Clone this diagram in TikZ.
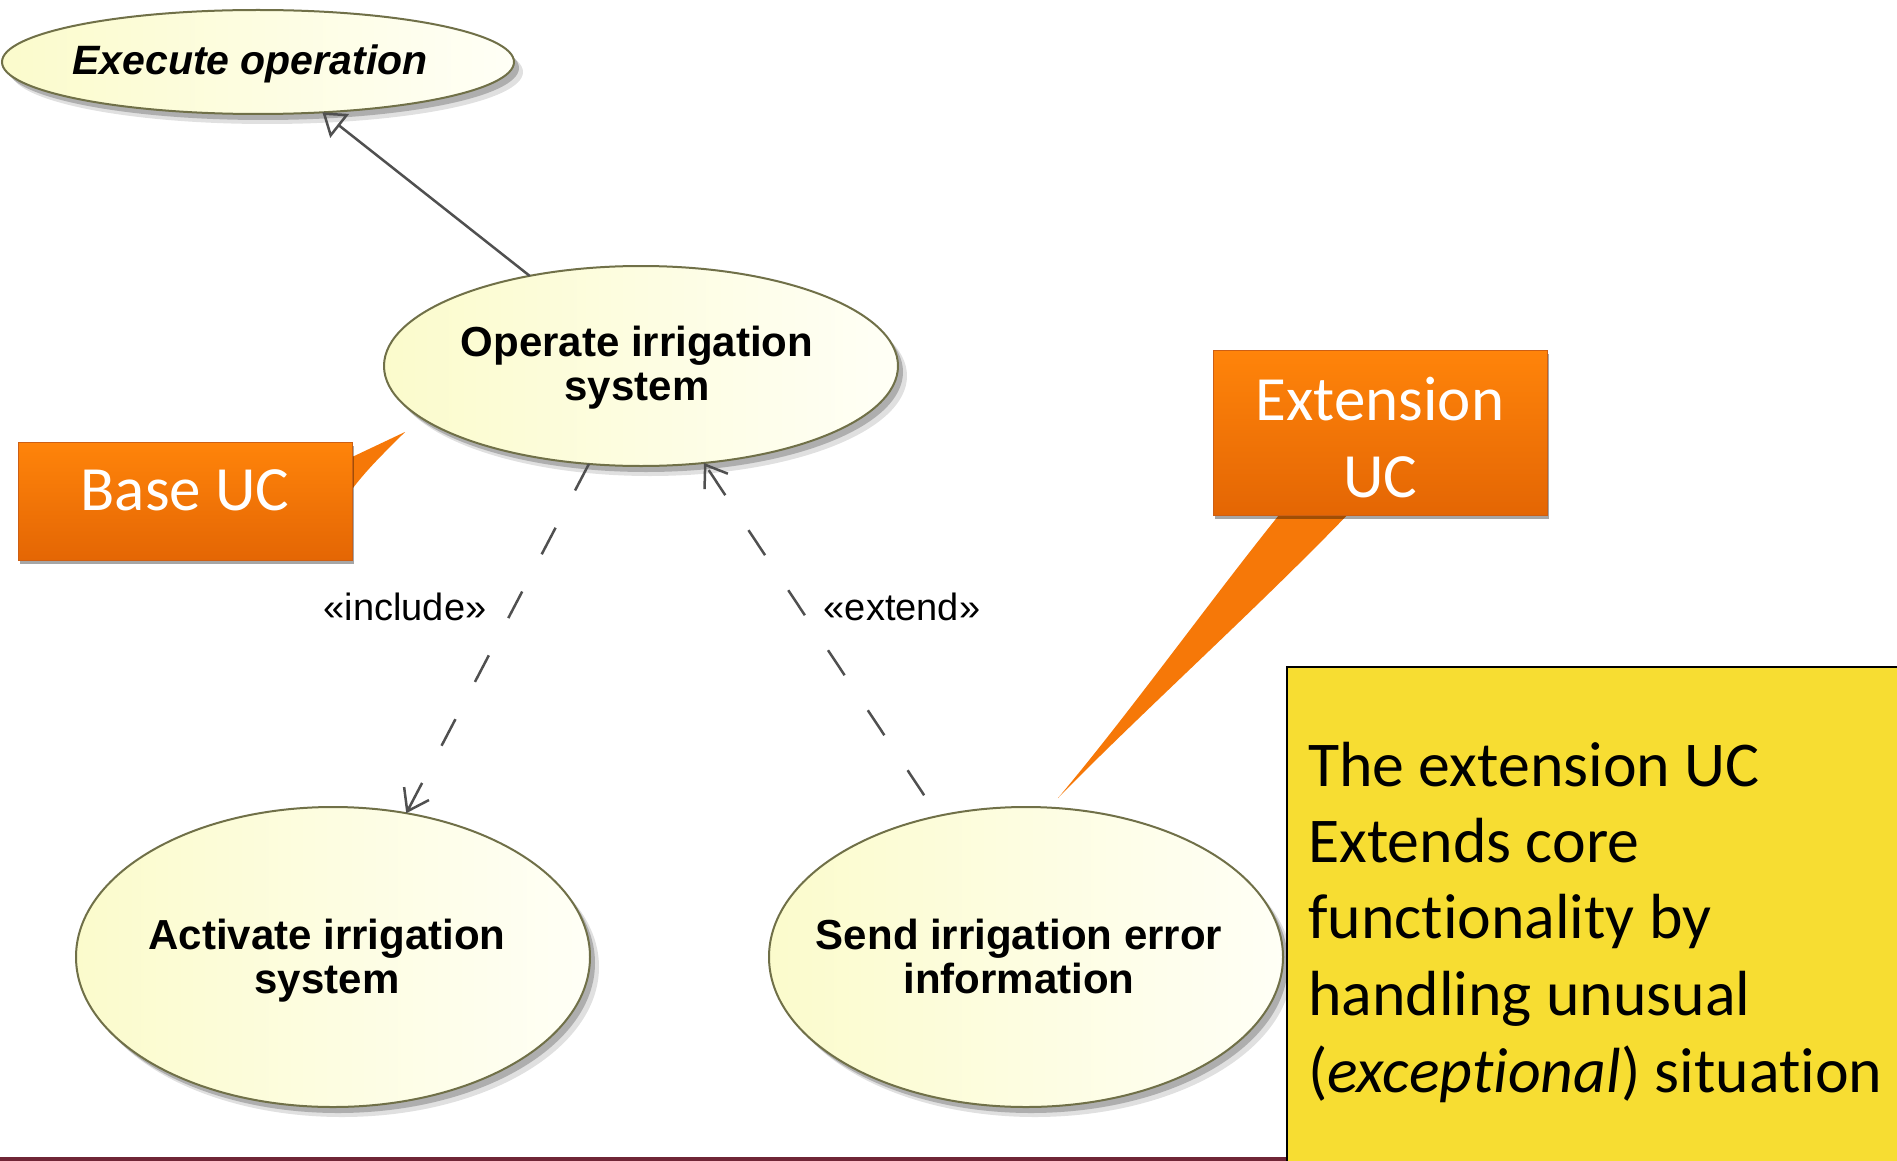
\documentclass[tikz,border=0pt]{standalone}
\usepackage{fontspec}
\setmainfont{Carlito}[Ligatures=NoCommon]
\newfontfamily\umlfont{Liberation Sans}
\usetikzlibrary{shapes.geometric,arrows.meta,shadows}

\definecolor{ucborder}{RGB}{112,112,72}
\definecolor{ucleft}{RGB}{251,251,204}
\definecolor{ucright}{RGB}{255,255,246}
\definecolor{linkgray}{RGB}{80,80,80}
\definecolor{calltop}{RGB}{255,132,10}
\definecolor{callbot}{RGB}{228,102,4}
\definecolor{calledge}{RGB}{205,95,20}
\definecolor{calltail}{RGB}{246,120,8}
\definecolor{noteyellow}{RGB}{247,221,50}
\definecolor{barred}{RGB}{112,38,54}

\begin{document}
\begin{tikzpicture}[x=1pt,y=-1pt,
  uc/.style={ellipse, draw=ucborder, line width=2pt, left color=ucleft,
    right color=ucright, inner sep=0pt, outer sep=0pt,
    drop shadow={shadow xshift=5pt, shadow yshift=-6pt, opacity=0.22, fill=black},
    drop shadow={shadow xshift=9pt, shadow yshift=-10pt, opacity=0.12, fill=black}},
  uctext/.style={font=\umlfont\bfseries\fontsize{42}{44}\selectfont,
    align=center, inner sep=0pt},
  stereo/.style={font=\umlfont\fontsize{38}{40}\selectfont, inner sep=0pt, anchor=base},
  link/.style={draw=linkgray, line width=2.5pt},
  dashpat/.style={dash pattern=on 30pt off 42pt},
  openhead/.style={-{Straight Barb[length=20pt, width=28pt]}},
  callbox/.style={rectangle, draw=calledge, line width=1pt, top color=calltop,
    bottom color=callbot, inner sep=0pt,
    drop shadow={shadow xshift=2pt, shadow yshift=-4pt, opacity=0.35, fill=black}},
  calltext/.style={font=\fontsize{63}{77}\selectfont, text=white, inner sep=0pt, anchor=base},
  notetext/.style={font=\fontsize{63.8}{77}\selectfont, text=black, inner sep=0pt, anchor=base west}
]
\useasboundingbox[fill=white] (0,0) rectangle (1897,1161);

% use cases
\node[uc, minimum width=512pt, minimum height=104pt] (ex) at (258,62) {};
\node[uc, minimum width=514pt, minimum height=200pt] (op) at (641,366) {};
\node[uc, minimum width=514pt, minimum height=300pt] (act) at (333,957) {};
\node[uc, minimum width=514pt, minimum height=300pt] (send) at (1026,957) {};

\node[uctext, font=\umlfont\bfseries\itshape\fontsize{41}{44}\selectfont] (ex-t) at (250,64) {Execute operation};
\node[uctext] (op-t) at (637,368) {Operate irrigation\\system};
\node[uctext] (act-t) at (327,961) {Activate irrigation\\system};
\node[uctext] (send-t) at (1019,956) {Send irrigation error\\information};

% relationships
\draw[link, -{Triangle[open, length=22pt, width=30pt]}] (op.141) -- (ex.-38);
\draw[link, dashpat, openhead] (op.-118.5) -- (act.63);
\draw[link, dashpat, dash phase=47pt, openhead] (send.122.9) -- (op.-57.9);

\node[stereo] (inc) at (405,620) {«include»};
\node[stereo] (ext) at (902,620) {«extend»};

% callout: base use case
\fill[calltail] (350,458) -- (405,432) .. controls (385,452) and (366,470) .. (350,492) -- cycle;
\node[callbox, minimum width=334pt, minimum height=118pt] (base) at (185,501) {};
\node[calltext] (base-t) at (185,510) {Base UC};

% callout: extension use case
\fill[calltail] (1283,510) .. controls (1212,598) and (1128,715) .. (1058,798)
  .. controls (1142,712) and (1264,602) .. (1352,510) -- cycle;
\node[callbox, minimum width=334pt, minimum height=165pt] (extc) at (1380,432.5) {};
\node[calltext] (extc-t1) at (1380,420) {Extension};
\node[calltext] (extc-t2) at (1380,497) {UC};

% bottom bar and note
\fill[barred] (0,1157) rectangle (1897,1161);
\node[fill=noteyellow, draw=none, anchor=north west, inner sep=0pt,
  minimum width=610pt, minimum height=494pt] (note) at (1287,667) {};
\draw[black, line width=2pt] (note.south west) -- (note.north west) -- (note.north east);
\node[notetext] (n1) at (1308,786) {The extension UC};
\node[notetext] (n2) at (1308,862) {Extends core};
\node[notetext] (n3) at (1308,938) {functionality by};
\node[notetext] (n4) at (1308,1015) {handling unusual};
\node[notetext] (n5) at (1308,1092) {(\textit{exceptional}) situation};
\end{tikzpicture}
\end{document}
